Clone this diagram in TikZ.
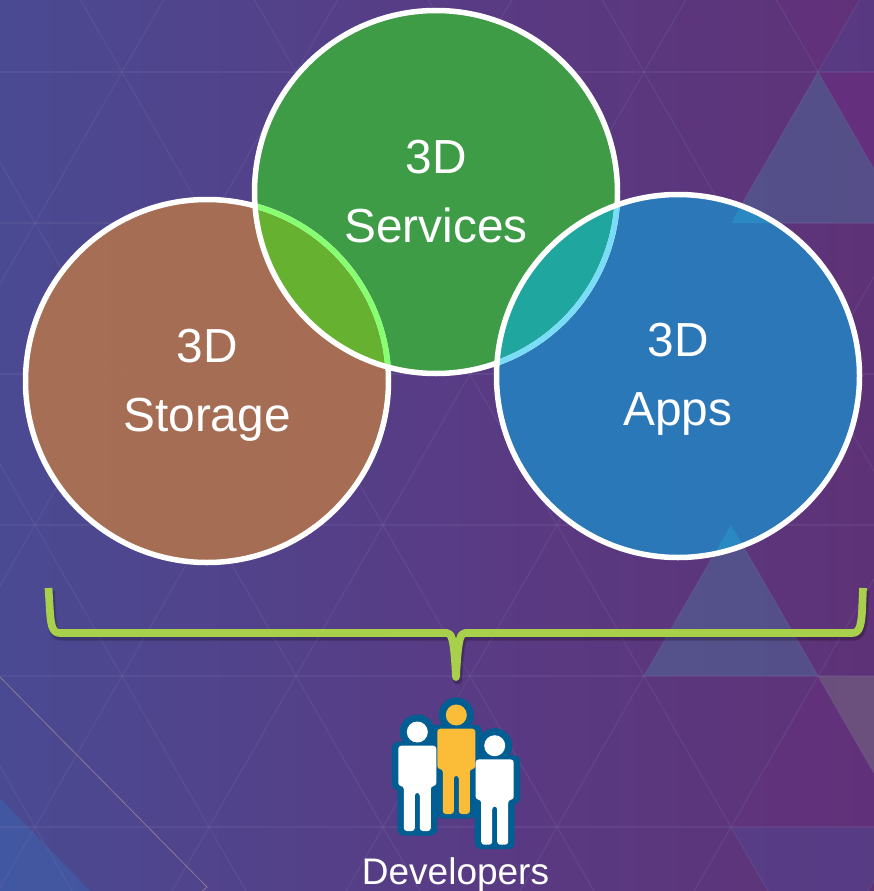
\documentclass[tikz,border=0pt]{standalone}
\usepackage{fontspec}
\setmainfont{Liberation Sans}
\definecolor{bgA}{HTML}{4A4A92}
\definecolor{bgB}{HTML}{583C85}
\definecolor{bgC}{HTML}{5E3277}
\definecolor{gridc}{HTML}{8A7AB0}
\definecolor{brownc}{HTML}{AD7151}
\definecolor{greenc}{HTML}{3DA342}
\definecolor{bluec}{HTML}{287DBD}
\definecolor{limec}{HTML}{68B32F}
\definecolor{tealc}{HTML}{1FA99E}
\definecolor{limeedge}{HTML}{86FF70}
\definecolor{tealedge}{HTML}{7ADDF8}
\definecolor{bracec}{HTML}{A9D04A}
\definecolor{manedge}{HTML}{005E93}
\definecolor{manyel}{HTML}{FBBC38}
\definecolor{triA}{HTML}{4C729D}
\definecolor{triB}{HTML}{786C82}
\definecolor{triC}{HTML}{78288C}
\definecolor{triD}{HTML}{3C64B0}
\definecolor{triE}{HTML}{4A50A0}
\definecolor{thinc}{HTML}{8A7A94}
\definecolor{triF}{HTML}{2A8CC4}
\tikzset{
  venn/.style={circle,minimum size=363pt,inner sep=0pt,outer sep=0pt,fill opacity=.93},
  ring/.style={circle,minimum size=363pt,inner sep=0pt,outer sep=0pt,draw=white,line width=5.5pt},
  vlabel/.style={text=white,align=center,font=\fontsize{47.8}{69}\selectfont,inner sep=0pt},
  gridline/.style={gridc,line width=1.3pt,opacity=.17},
  bracepath/.style={line width=7.7pt,bracec,line join=round},
}
\newcommand{\personedge}[2]{%
  \begin{scope}[shift={(#1,#2)}]
    \fill[manedge] (0,0) circle (17.5);
    \draw[manedge,line width=13pt,line join=round,fill=manedge]
      (-19,16) -- (19,16) -- (19,52) -- (13.5,54) -- (13.5,97) -- (-13.5,97) -- (-13.5,54) -- (-19,52) -- cycle;
  \end{scope}}
\newcommand{\personfill}[3]{%
  \begin{scope}[shift={(#1,#2)}]
    \fill[#3] (0,0) circle (10.5);
    \fill[#3,rounded corners=3pt]
      (-19,13.7) -- (19,13.7) -- (19,54) -- (13.5,54) -- (13.5,99) -- (2.5,99) -- (2.5,60.7) -- (-2.5,60.7) -- (-2.5,99) -- (-13.5,99) -- (-13.5,54) -- (-19,54) -- cycle;
  \end{scope}}
\begin{document}
\begin{tikzpicture}[x=1pt,y=-1pt]
\useasboundingbox (0,0) rectangle (874,891);
% background
\shade[left color=bgA,right color=bgC,middle color=bgB] (0,0) rectangle (874,891);
\begin{scope}
\clip (0,0) rectangle (874,891);
\fill[triA,opacity=.45] (818,72) -- (731,223) -- (905,223) -- cycle;
\fill[triA,opacity=.45] (731,525) -- (644,676) -- (818,676) -- cycle;
\fill[triB,opacity=.5] (818,676) -- (992,676) -- (905,827) -- cycle;
\fill[triC,opacity=.25] (818,72) -- (992,72) -- (905,223) -- cycle;
\fill[triC,opacity=.15] (731,-79) -- (905,-79) -- (818,72) -- cycle;
\fill[triE,opacity=.25] (818,72) -- (905,-79) -- (992,72) -- cycle;
\fill[triC,opacity=.15] (818,676) -- (731,827) -- (905,827) -- cycle;
\fill[triE,opacity=.3] (731,827) -- (905,827) -- (818,978) -- cycle;
\fill[triD,opacity=.5] (0,798) -- (90,891) -- (0,891) -- cycle;
\foreach \r in {72,223,374,525,676,827} \draw[gridline] (0,\r) -- (874,\r);
\foreach \k in {-5,...,9} {
  \draw[gridline] ({122+174*\k-87},-79) -- ({122+174*\k+87*6},978);
  \draw[gridline] ({122+174*\k+87},-79) -- ({122+174*\k-87*6},978);
}
\draw[line width=.8pt,thinc] (0,677) -- (207,887) -- (200,893);
\end{scope}
% circles
\node[venn,fill=brownc] (storage) at (207,381) {};
\node[venn,fill=greenc] (services) at (436,192) {};
\node[venn,fill=bluec] (apps) at (678,376) {};
\begin{scope}
  \clip (207,381) circle (181);
  \fill[limec,opacity=.95] (436,192) circle (181);
\end{scope}
\begin{scope}
  \clip (678,376) circle (181);
  \fill[tealc,opacity=.95] (436,192) circle (181);
\end{scope}
\begin{scope}
  \clip (678,376) circle (181);
  \fill[triF,opacity=.85] (818,72) -- (731,223) -- (905,223) -- cycle;
  \fill[triF,opacity=.85] (731,525) -- (644,676) -- (818,676) -- cycle;
\end{scope}
\node[ring] at (207,381) {};
\begin{scope}
  \clip (436,192) circle (181);
  \node[ring,draw=limeedge] at (207,381) {};
\end{scope}
\node[ring] at (436,192) {};
\begin{scope}
  \clip (678,376) circle (181);
  \node[ring,draw=tealedge] at (436,192) {};
\end{scope}
\node[ring] at (678,376) {};
\node[vlabel] (t1) at (207,385) {3D\\Storage};
\node[vlabel] (t2) at (436,192) {3D\\Services};
\node[vlabel] (t3) at (678,379.5) {3D\\Apps};
% brace shadow
\foreach \o/\w in {.10/10,.14/8}
\draw[black,opacity=\o,line width=\w pt,line join=round,shift={(1.5,3)}]
  (48.5,588) -- (50,612) .. controls (51,627) and (53,633) .. (60,633) -- (447,633) .. controls (452,633) and (454,640) .. (456,677) .. controls (458,640) and (460,633) .. (465,633) -- (852,633) .. controls (859,633) and (861,627) .. (862,612) -- (863,588);
\coordinate (bl) at (48.5,588);
\coordinate (br) at (863,588);
\draw[bracepath] (bl) -- (50,612) .. controls (51,627) and (53,633) .. (60,633) -- (447,633) .. controls (452,633) and (454,640) .. (456,677) .. controls (458,640) and (460,633) .. (465,633) -- (852,633) .. controls (859,633) and (861,627) .. (862,612) -- (br);
% people
\personedge{456.3}{715}
\personedge{417.3}{732}
\personedge{494.7}{745.7}
\personfill{456.3}{715}{manyel}
\personfill{417.3}{732}{white}
\personfill{494.7}{745.7}{white}
\node[text=white,font=\fontsize{37}{44}\selectfont,inner sep=0pt] (dev) at (455.5,875) {Developers};
\end{tikzpicture}
\end{document}
